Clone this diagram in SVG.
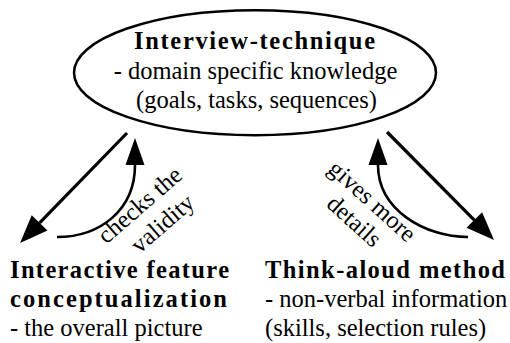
<svg xmlns="http://www.w3.org/2000/svg" width="510" height="343" viewBox="0 0 510 343">
  <style>
    .bold { font-weight: bold; }
    .mid { text-anchor: middle; }
    .outline { fill: #fff; stroke: #000; stroke-width: 2.5; }
    .straight { fill: none; stroke: #000; stroke-width: 3.2; }
    .curved { fill: none; stroke: #000; stroke-width: 2.6; }
  </style>
  <defs>
    <marker id="headBig" markerUnits="userSpaceOnUse" markerWidth="30" markerHeight="24" refX="0" refY="12" orient="auto" overflow="visible">
      <path d="M0,1 L28,12 L0,23 z" fill="#000"/>
    </marker>
    <marker id="headSmall" markerUnits="userSpaceOnUse" markerWidth="28" markerHeight="20" refX="0" refY="10" orient="auto" overflow="visible">
      <path d="M0,0.5 L27,10 L0,19.5 z" fill="#000"/>
    </marker>
  </defs>

  <rect width="510" height="343" fill="#fff"/>

  <g font-family="Liberation Serif, Times New Roman, serif" font-size="24.5" fill="#000">
    <!-- top node -->
    <g id="interview">
      <ellipse class="outline" cx="255" cy="72.7" rx="181" ry="62.5"/>
      <text class="bold mid" x="254.5" y="49" textLength="241" lengthAdjust="spacing">Interview-technique</text>
      <text class="mid" x="255.5" y="79">- domain specific knowledge</text>
      <text class="mid" x="256.5" y="108">(goals, tasks, sequences)</text>
    </g>

    <!-- bottom-left node -->
    <g id="interactive">
      <text class="bold" x="10" y="278" textLength="219" lengthAdjust="spacing">Interactive  feature</text>
      <text class="bold" x="10" y="307" textLength="217" lengthAdjust="spacing">conceptualization</text>
      <text x="10" y="336">- the overall picture</text>
    </g>

    <!-- bottom-right node -->
    <g id="thinkaloud">
      <text class="bold" x="265" y="278" textLength="240" lengthAdjust="spacing">Think-aloud  method</text>
      <text x="265" y="307">- non-verbal information</text>
      <text x="265" y="336">(skills, selection rules)</text>
    </g>

    <!-- connectors -->
    <g id="connectors">
      <line class="straight" x1="127" y1="133" x2="39.6" y2="222.9" marker-end="url(#headBig)"/>
      <path class="curved" d="M57,237 C100,237 135,210 135,165" marker-end="url(#headSmall)"/>
      <line class="straight" x1="387" y1="132" x2="474.3" y2="220.1" marker-end="url(#headBig)"/>
      <path class="curved" d="M468,237 C425,237 378,210 378,165" marker-end="url(#headSmall)"/>

      <g transform="translate(145,211) rotate(-41)">
        <text class="mid" x="0" y="0">checks the</text>
        <text class="mid" x="5" y="29">validity</text>
      </g>
      <g transform="translate(367,207) rotate(42)">
        <text class="mid" x="0" y="0">gives more</text>
        <text class="mid" x="0" y="27">details</text>
      </g>
    </g>
  </g>
</svg>
